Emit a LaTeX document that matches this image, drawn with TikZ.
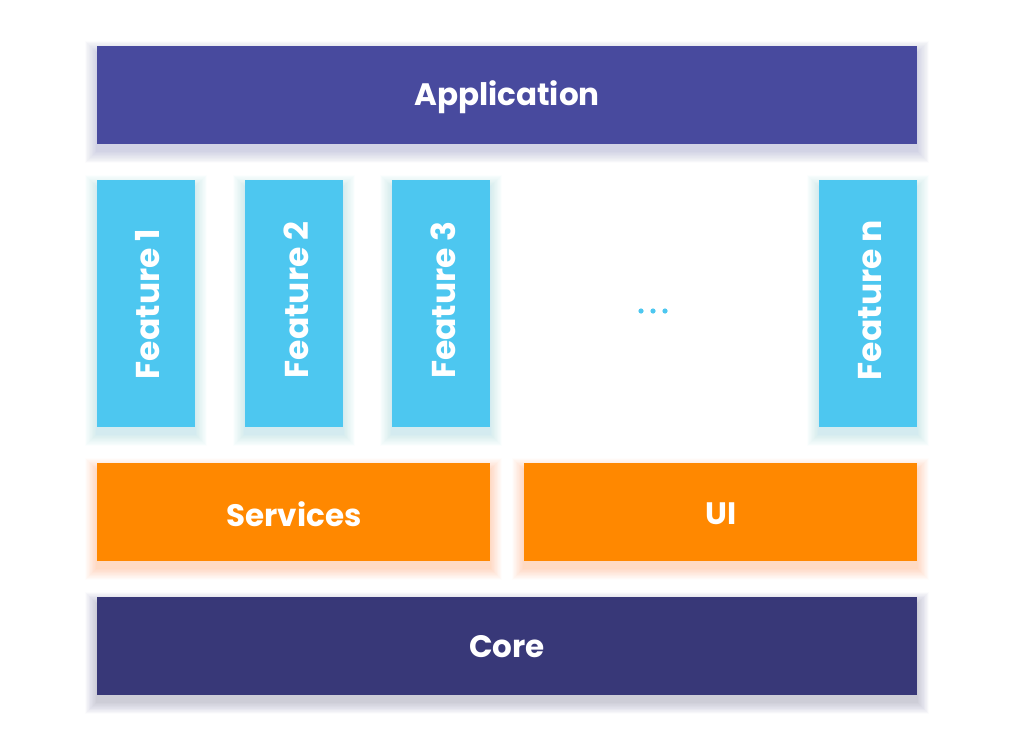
\documentclass[tikz,border=0pt]{standalone}
\usepackage{fontspec}
\setmainfont{Poppins}
\definecolor{appc}{HTML}{484A9E}
\definecolor{featc}{HTML}{4DC7F0}
\definecolor{orc}{HTML}{FF8800}
\definecolor{corec}{HTML}{383878}
\tikzset{
  lbl/.style={text=white, font=\fontsize{31}{36}\selectfont\bfseries},
  flbl/.style={text=white, rotate=90, font=\fontsize{33}{38}\selectfont\bfseries},
}
\newcommand{\myshadebox}[5]{%
  \foreach \i in {1,...,20}{%
    \fill[#5, opacity=0.01] ([xshift=-0.6*\i pt, yshift=0.6*\i pt-7pt]#1,#2) rectangle ([xshift=0.6*\i pt, yshift=-0.6*\i pt-7pt]#3,#4);
  }%
  \fill[#5] (#1,#2) rectangle (#3,#4);%
}
\begin{document}
\begin{tikzpicture}[x=1pt,y=-1pt]
\useasboundingbox (0,0) rectangle (1024,747);
\fill[white] (0,0) rectangle (1024,747);
\myshadebox{97}{46}{917}{144}{appc}
\node[lbl] (app) at (507,97) {Application};
\myshadebox{97}{180}{195}{427}{featc}
\node[flbl] (f1) at (148,304) {Feature 1};
\myshadebox{245}{180}{343}{427}{featc}
\node[flbl] (f2) at (296,300) {Feature 2};
\myshadebox{392}{180}{490}{427}{featc}
\node[flbl] (f3) at (443,300) {Feature 3};
\myshadebox{819}{180}{917}{427}{featc}
\node[flbl] (fn) at (870,300) {Feature n};
\fill[featc] (641,311) circle (2.6) (653,311) circle (2.6) (665,311) circle (2.6);
\myshadebox{97}{463}{490}{561}{orc}
\node[lbl] (svc) at (294,514) {Services};
\myshadebox{524}{463}{917}{561}{orc}
\node[lbl] (ui) at (721,514) {UI};
\myshadebox{97}{597}{917}{695}{corec}
\node[lbl] (core) at (507,647) {Core};
\end{tikzpicture}
\end{document}
